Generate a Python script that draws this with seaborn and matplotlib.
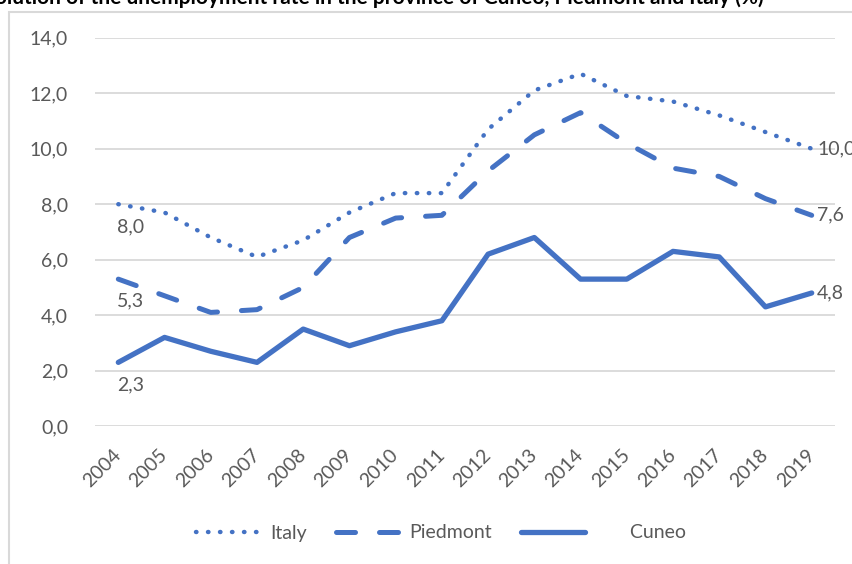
import matplotlib
matplotlib.use("Agg")
import matplotlib.pyplot as plt
from matplotlib.patches import Rectangle
from matplotlib.ticker import FuncFormatter
import seaborn as sns
import pandas as pd

# ---- data ----
years = [2004, 2005, 2006, 2007, 2008, 2009, 2010, 2011,
         2012, 2013, 2014, 2015, 2016, 2017, 2018, 2019]
italy = [8.0, 7.7, 6.8, 6.1, 6.7, 7.7, 8.4, 8.4,
         10.7, 12.1, 12.7, 11.9, 11.7, 11.2, 10.6, 10.0]
piedmont = [5.3, 4.7, 4.1, 4.2, 5.0, 6.8, 7.5, 7.6,
            9.2, 10.5, 11.3, 10.2, 9.3, 9.0, 8.2, 7.6]
cuneo = [2.3, 3.2, 2.7, 2.3, 3.5, 2.9, 3.4, 3.8,
         6.2, 6.8, 5.3, 5.3, 6.3, 6.1, 4.3, 4.8]
series_names = ["Italy", "Piedmont", "Cuneo"]
y_ticks = [0, 2, 4, 6, 8, 10, 12, 14]
title = "Evolution of the unemployment rate in the province of Cuneo, Piedmont and Italy (%)"

BLUE = "#4472C4"
GREY_TXT = "#595959"
GRID = "#D9D9D9"

sns.set_style("white")
plt.rcParams["font.family"] = ["Lato", "DejaVu Sans"]

W, H = 853, 564
fig = plt.figure(figsize=(W / 100, H / 100), dpi=100)
ax = fig.add_axes([95.2 / W, 1 - 426.2 / H, (834.8 - 95.2) / W, (426.2 - 37.7) / H])

df = pd.DataFrame({"year": years, "Italy": italy, "Piedmont": piedmont, "Cuneo": cuneo})

styles = {
    "Italy": dict(lw=3.2, dashes=(0.1, 2.6)),
    "Piedmont": dict(lw=3.6, dashes=(3.8, 4.8)),
    "Cuneo": dict(lw=3.8, dashes=None),
}
handles = []
for name in series_names:
    sns.lineplot(data=df, x="year", y=name, ax=ax, color=BLUE, legend=False)
    line = ax.lines[-1]
    st = styles[name]
    line.set_linewidth(st["lw"])
    if st["dashes"] is not None:
        line.set_dashes(st["dashes"])
    line.set_dash_capstyle("round")
    line.set_solid_capstyle("round")
    line.set_solid_joinstyle("round")
    line.set_dash_joinstyle("round")
    line.set_label(name if name != "Cuneo" else "       Cuneo")
    line.set_clip_on(False)
    handles.append(line)

fmt = lambda v: f"{v:.1f}".replace(".", ",")

# data labels: first and last point of each series
for name in series_names:
    vals = df[name].tolist()
    ax.annotate(fmt(vals[0]), xy=(years[0], vals[0]), xytext=(9, -16),
                textcoords="offset points", ha="center", va="center",
                fontsize=14, color=GREY_TXT)
    ax.annotate(fmt(vals[-1]), xy=(years[-1], vals[-1]), xytext=(4, 0),
                textcoords="offset points", ha="left", va="center",
                fontsize=14, color=GREY_TXT, annotation_clip=False)

ax.set_xlim(years[0] - 0.5, years[-1] + 0.5)
ax.set_ylim(0, 14)
ax.set_yticks(y_ticks)
ax.yaxis.set_major_formatter(FuncFormatter(lambda v, p: fmt(v)))
ax.set_xticks(years)
ax.set_xticklabels([str(y) for y in years], rotation=45, ha="right",
                   va="center", rotation_mode="anchor")
ax.tick_params(axis="y", length=0, pad=19.5, labelsize=14, labelcolor=GREY_TXT)
ax.tick_params(axis="x", length=0, pad=18.5, labelsize=14, labelcolor=GREY_TXT)
ax.set_xlabel("")
ax.set_ylabel("")
ax.yaxis.grid(True, color=GRID, lw=1.3)
ax.xaxis.grid(False)
ax.set_axisbelow(True)
for s in ax.spines.values():
    s.set_visible(False)

fig.legend(handles=handles, loc="center", bbox_to_anchor=(441 / W, 1 - 533 / H),
           ncol=3, frameon=False, fontsize=14, labelcolor=GREY_TXT,
           handlelength=3.3, handletextpad=0.5, columnspacing=1.5)

# chart frame
fig.add_artist(Rectangle((9 / W, -0.1), 1.2, (1 - 12 / H) + 0.1,
                         transform=fig.transFigure, fill=False,
                         edgecolor=GRID, lw=1.5))

# title (cut off at the top of the picture)
renderer = fig.canvas.get_renderer()
prefix = "Evolution of the unem"
tmp = fig.text(0, 0, prefix, fontsize=15, fontweight="bold")
wpx = tmp.get_window_extent(renderer).width
tmp.remove()
fig.text((179 - wpx) / W, 1 - 4.5 / H, title, fontsize=15, fontweight="bold",
         color="black", va="baseline", ha="left")

fig.savefig("out.png", dpi=100)
